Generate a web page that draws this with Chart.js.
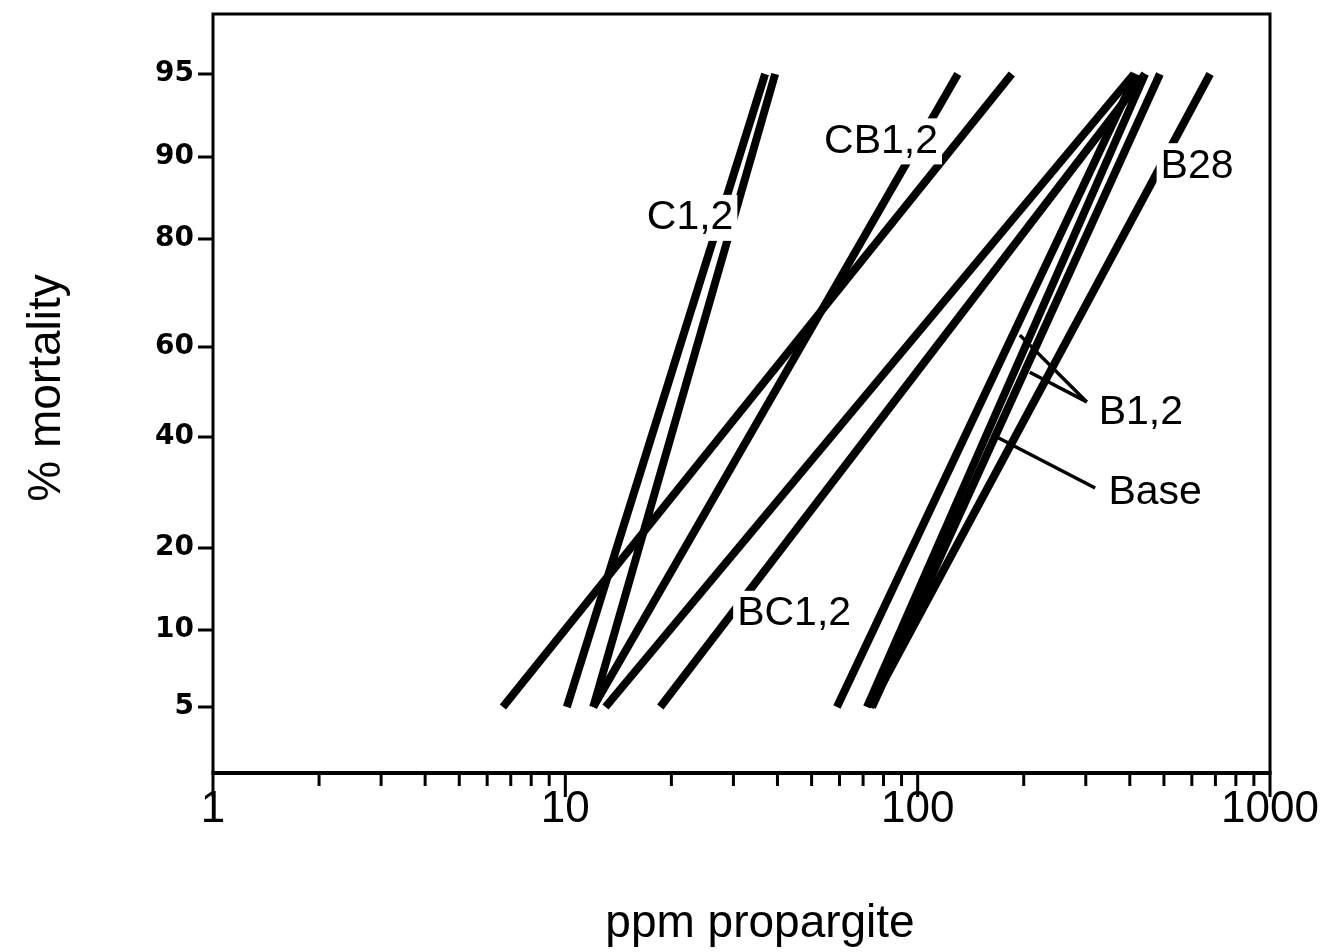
<!DOCTYPE html>
<html>
<head>
<meta charset="utf-8">
<title>% mortality vs ppm propargite</title>
<script src="https://cdn.jsdelivr.net/npm/chart.js@4.4.1/dist/chart.umd.min.js"></script>
<style>
  html, body { margin: 0; padding: 0; background: #fff; }
  canvas { display: block; }
</style>
</head>
<body>
<canvas id="chart" width="1332" height="952"></canvas>
<script>
// Dose (ppm propargite) at the low and high end of each fitted probit line.
var lineNames = ['C1', 'C2', 'CB1', 'CB2', 'BC1', 'BC2', 'B1', 'B2', 'Base', 'B28'];
var doseLow   = [10.1, 12.0, 6.65, 12.0, 13.0, 18.6, 59.0, 71.8, 74.2, 73.2];
var doseHigh  = [36.9, 39.4, 185, 130, 411, 442, 417, 442, 487, 676];
var mortLow = 5;
var mortHigh = 95;

// Tick labels of both axes.
var xTickValues = [1, 10, 100, 1000];
var yTickValues = [5, 10, 20, 40, 60, 80, 90, 95];
// Probability scale of the original graph: where each % mark sits (scale units above the 5% mark).
var yTickUnits = [0, 77, 159, 270, 360, 468, 550, 633];

// Text labels on the plot and their pointer lines, in data units.
var labelTexts = ['C1,2', 'CB1,2', 'B28', 'BC1,2', 'B1,2', 'Base'];
var labelDose  = [22.6, 78.7, 621, 44.6, 430, 472];
var labelMort  = [82.7, 91.0, 89.0, 12.1, 45.6, 30.1];
var pointers = [
    // [dose from, mort from, dose to, mort to]
    [195, 62.2, 302, 47.8],
    [208, 54.4, 302, 47.8],
    [164, 40.4, 319, 30.8]
];

var FONT = '"Liberation Sans", Arial, Helvetica, sans-serif';

// Map a % mortality onto the graph's probability scale.
function mortToUnits(m) {
    for (var i = 0; i < yTickValues.length - 1; i++) {
        var a = yTickValues[i], b = yTickValues[i + 1];
        if (m <= b || i === yTickValues.length - 2) {
            var t = (m - a) / (b - a);
            return yTickUnits[i] + t * (yTickUnits[i + 1] - yTickUnits[i]);
        }
    }
    return 0;
}

var datasets = lineNames.map(function(name, i) {
    return {
        label: name,
        data: [
            {x: doseLow[i], y: mortToUnits(mortLow)},
            {x: doseHigh[i], y: mortToUnits(mortHigh)}
        ],
        borderColor: '#000',
        borderWidth: 8,
        borderCapStyle: 'butt',
        pointRadius: 0,
        fill: false,
        tension: 0
    };
});

// Labels with a white knock-out box, plus pointer lines.
var labelPlugin = {
    id: 'labels',
    afterDatasetsDraw: function(chart) {
        var ctx = chart.ctx;
        var xs = chart.scales.x, ys = chart.scales.y;
        ctx.save();
        ctx.font = '41px ' + FONT;
        ctx.textAlign = 'center';
        ctx.textBaseline = 'middle';
        labelTexts.forEach(function(txt, i) {
            var px = xs.getPixelForValue(labelDose[i]);
            var py = ys.getPixelForValue(mortToUnits(labelMort[i]));
            var w = ctx.measureText(txt).width;
            ctx.fillStyle = '#fff';
            ctx.fillRect(px - w / 2 - 4, py - 22, w + 8, 46);
            ctx.fillStyle = '#000';
            ctx.fillText(txt, px, py + 1);
        });
        ctx.strokeStyle = '#000';
        ctx.lineWidth = 3.5;
        pointers.forEach(function(p) {
            ctx.beginPath();
            ctx.moveTo(xs.getPixelForValue(p[0]), ys.getPixelForValue(mortToUnits(p[1])));
            ctx.lineTo(xs.getPixelForValue(p[2]), ys.getPixelForValue(mortToUnits(p[3])));
            ctx.stroke();
        });
        ctx.restore();
    }
};

// Frame, tick marks and axis titles.
var framePlugin = {
    id: 'frame',
    afterDraw: function(chart) {
        var ctx = chart.ctx;
        var a = chart.chartArea;
        var xs = chart.scales.x, ys = chart.scales.y;
        ctx.save();
        ctx.strokeStyle = '#000';
        ctx.lineCap = 'butt';

        // box
        ctx.lineWidth = 3;
        ctx.beginPath();
        ctx.moveTo(a.left, a.bottom);
        ctx.lineTo(a.left, a.top);
        ctx.lineTo(a.right, a.top);
        ctx.lineTo(a.right, a.bottom);
        ctx.stroke();
        ctx.lineWidth = 4;
        ctx.beginPath();
        ctx.moveTo(a.left - 1.5, a.bottom);
        ctx.lineTo(a.right + 1.5, a.bottom);
        ctx.stroke();

        // x ticks: decades long, 2..9 short
        ctx.lineWidth = 3;
        for (var d = 1; d <= 1000; d *= 10) {
            for (var k = 1; k <= 9; k++) {
                var v = d * k;
                if (v > 1000) break;
                var px = xs.getPixelForValue(v);
                var len = k === 1 ? 24 : 13;
                ctx.beginPath();
                ctx.moveTo(px, a.bottom);
                ctx.lineTo(px, a.bottom + len);
                ctx.stroke();
            }
        }

        // y ticks
        yTickValues.forEach(function(m) {
            var py = ys.getPixelForValue(mortToUnits(m));
            ctx.beginPath();
            ctx.moveTo(a.left - 15, py);
            ctx.lineTo(a.left, py);
            ctx.stroke();
        });

        // axis titles
        ctx.fillStyle = '#000';
        ctx.font = '46px ' + FONT;
        ctx.textAlign = 'center';
        ctx.textBaseline = 'alphabetic';
        ctx.fillText('ppm propargite', 760, 937);
        ctx.translate(60, 388);
        ctx.rotate(-Math.PI / 2);
        ctx.fillText('% mortality', 0, 0);
        ctx.restore();
    }
};

var chart = new Chart(document.getElementById('chart'), {
    type: 'line',
    data: {datasets: datasets},
    options: {
        responsive: false,
        animation: false,
        layout: {
            autoPadding: false,
            padding: {left: 0, right: 62, top: 14, bottom: 0}
        },
        plugins: {
            legend: {display: false},
            tooltip: {enabled: false}
        },
        scales: {
            x: {
                type: 'logarithmic',
                min: 1,
                max: 1000,
                grid: {display: false, drawTicks: false},
                border: {display: false},
                afterBuildTicks: function(scale) {
                    scale.ticks = xTickValues.map(function(v) { return {value: v}; });
                },
                afterFit: function(scale) {
                    scale.height = 179;
                    scale.paddingLeft = 0;
                    scale.paddingRight = 0;
                },
                ticks: {
                    autoSkip: false,
                    maxRotation: 0,
                    padding: 10,
                    color: '#000',
                    font: {family: FONT, size: 44},
                    callback: function(value) { return String(value); }
                }
            },
            y: {
                type: 'linear',
                min: -66,
                max: 693,
                grid: {display: false, drawTicks: false},
                border: {display: false},
                afterBuildTicks: function(scale) {
                    scale.ticks = yTickValues.map(function(m) { return {value: mortToUnits(m)}; });
                },
                afterFit: function(scale) {
                    scale.width = 213;
                    scale.paddingTop = 0;
                    scale.paddingBottom = 0;
                },
                ticks: {
                    autoSkip: false,
                    padding: 19,
                    color: '#000',
                    font: {family: '"DejaVu Sans", sans-serif', size: 28, weight: 'bold'},
                    callback: function(value, index) { return String(yTickValues[index]); }
                }
            }
        }
    },
    plugins: [labelPlugin, framePlugin]
});
</script>
</body>
</html>
